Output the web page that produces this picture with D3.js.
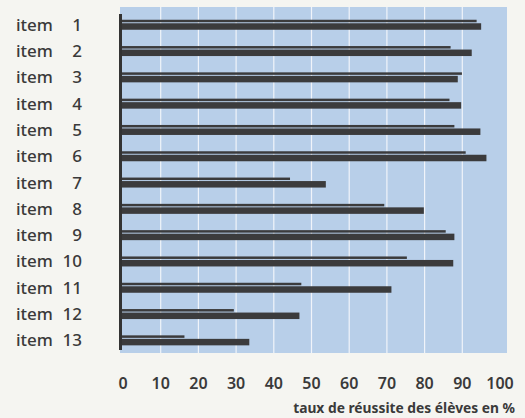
<!DOCTYPE html>
<html>
<head>
<meta charset="utf-8">
<script src="https://cdn.jsdelivr.net/npm/d3@7"></script>
<style>
    body {
        margin: 0;
        background: #f5f5f1;
    }
    svg {
        display: block;
    }
</style>
</head>
<body>
<svg id="chart" width="525" height="418"></svg>
<script>
    // Items and values (success rate in %)
    const items = ["1", "2", "3", "4", "5", "6", "7", "8", "9", "10", "11", "12", "13"];
    // thin upper bar
    const thinValues = [93.8, 86.9, 89.9, 86.6, 87.9, 90.9, 44.3, 69.3, 85.6, 75.3, 47.3, 29.4, 16.3];
    // thick lower bar
    const thickValues = [95.0, 92.5, 88.8, 89.7, 94.8, 96.4, 53.8, 79.8, 87.9, 87.6, 71.2, 46.8, 33.5];
    const xTicks = [0, 10, 20, 30, 40, 50, 60, 70, 80, 90, 100];
    const gridTicks = [10, 20, 30, 40, 50, 60, 70, 80, 90];
    const xTitle = "taux de réussite des élèves en %";

    const svg = d3.select("#chart");

    const x = d3.scaleLinear().domain([0, 100]).range([123, 500]);
    const y = d3.scaleBand().domain(items).range([19.75, 345.35]).paddingInner(0.62).paddingOuter(0);

    const textColor = "#3a3a3a";
    const barColor = "#3b3b3c";

    // blue plot background
    svg.append("rect")
        .attr("x", x(0) - 3)
        .attr("y", 7)
        .attr("width", x(100) - x(0) + 10)
        .attr("height", 346)
        .attr("fill", "#b8cfe9");

    // white vertical gridlines
    svg.append("g").selectAll("line").data(gridTicks).join("line")
        .attr("x1", d => x(d)).attr("x2", d => x(d))
        .attr("y1", 7).attr("y2", 353)
        .attr("stroke", "#f0f4fa")
        .attr("stroke-width", 1.2);

    // thin bars
    svg.append("g").selectAll("rect").data(items).join("rect")
        .attr("x", x(0) - 1)
        .attr("y", d => y(d))
        .attr("width", (d, i) => x(thinValues[i]) - x(0) + 1)
        .attr("height", 2.5)
        .attr("fill", barColor);

    // thick bars
    svg.append("g").selectAll("rect").data(items).join("rect")
        .attr("x", x(0) - 1)
        .attr("y", d => y(d) + 3.5)
        .attr("width", (d, i) => x(thickValues[i]) - x(0) + 1)
        .attr("height", 6.5)
        .attr("fill", barColor);

    // left axis line
    svg.append("line")
        .attr("x1", x(0) - 2.5).attr("x2", x(0) - 2.5)
        .attr("y1", 14).attr("y2", 350)
        .attr("stroke", "#333")
        .attr("stroke-width", 3);

    // item labels
    const labels = svg.append("g")
        .attr("font-family", "'Noto Sans', sans-serif")
        .attr("font-size", "17px")
        .attr("font-weight", 500)
        .attr("fill", textColor);

    labels.selectAll("text.word").data(items).join("text")
        .attr("class", "word")
        .attr("x", 16)
        .attr("y", d => y(d) + 11)
        .text("item");

    labels.selectAll("text.num").data(items).join("text")
        .attr("class", "num")
        .attr("x", 82)
        .attr("y", d => y(d) + 11)
        .attr("text-anchor", "end")
        .text(d => d);

    // x tick labels
    svg.append("g").selectAll("text").data(xTicks).join("text")
        .attr("x", d => x(d))
        .attr("y", 389)
        .attr("text-anchor", "middle")
        .attr("font-family", "'Noto Sans', sans-serif")
        .attr("font-size", "16px")
        .attr("font-weight", 600)
        .attr("fill", textColor)
        .text(d => d);

    // x title
    svg.append("text")
        .attr("x", 515)
        .attr("y", 413)
        .attr("text-anchor", "end")
        .attr("font-family", "'Noto Sans', sans-serif")
        .attr("font-size", "13.8px")
        .attr("font-weight", "bold")
        .attr("fill", textColor)
        .text(xTitle);
</script>
</body>
</html>
